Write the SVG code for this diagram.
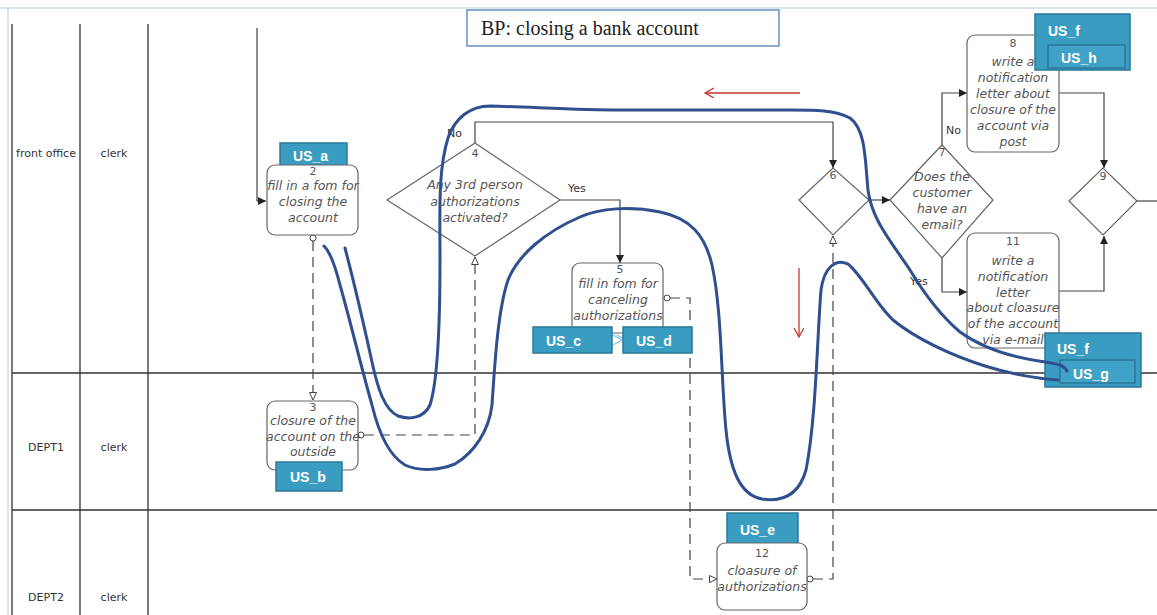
<svg xmlns="http://www.w3.org/2000/svg" width="1157" height="615" viewBox="0 0 1157 615">
<defs>
<style>
.lane{stroke:#333;stroke-width:1.3;fill:none}
.lbl{font-family:"DejaVu Sans",sans-serif;font-size:11px;fill:#333;text-anchor:middle}
.node{fill:#fff;stroke:#666;stroke-width:1.2}
.nt{font-family:"DejaVu Sans",sans-serif;font-style:italic;font-size:12.5px;fill:#555;text-anchor:middle}
.num{font-family:"DejaVu Sans",sans-serif;font-size:11px;fill:#555;text-anchor:middle}
.cn{fill:none;stroke:#444;stroke-width:1.2}
.dash{fill:none;stroke:#444;stroke-width:1.2;stroke-dasharray:10,6}
.circ{fill:#fff;stroke:#444;stroke-width:1}
.us{fill:#3a9cc0;stroke:#2a7898;stroke-width:1.5}
.usin{fill:#3fa2c6;stroke:#2a7898;stroke-width:1.5}
.ust{font-family:"Liberation Sans",sans-serif;font-weight:bold;font-size:14px;fill:#fff}
.blue{fill:none;stroke:#2f4f8f;stroke-width:3;stroke-linecap:round;stroke-linejoin:round}
.red{fill:none;stroke:#c0392b;stroke-width:1.3}
.edge{font-family:"DejaVu Sans",sans-serif;font-size:11px;fill:#333}
</style>
<marker id="af" markerUnits="userSpaceOnUse" markerWidth="9" markerHeight="9" refX="8" refY="4" orient="auto"><path d="M0,0 L8,4 L0,8 z" fill="#222"/></marker>
<marker id="ao" markerUnits="userSpaceOnUse" markerWidth="9" markerHeight="9" refX="8" refY="4" orient="auto"><path d="M0.5,0.5 L8,4 L0.5,7.5 z" fill="#fff" stroke="#444" stroke-width="1"/></marker>
<marker id="ar" markerUnits="userSpaceOnUse" markerWidth="12" markerHeight="12" refX="9" refY="5" orient="auto"><path d="M0,0 L9,5 L0,10" fill="none" stroke="#c0392b" stroke-width="1.3"/></marker>
</defs>
<rect width="1157" height="615" fill="#fff"/>
<line x1="0" y1="8" x2="1157" y2="8" stroke="#b7c9df" stroke-width="1"/>
<line x1="8" y1="8" x2="8" y2="615" stroke="#b7c9df" stroke-width="1"/>

<g id="lanes">
<path class="lane" d="M12,24 V615 M80,24 V615 M148,24 V615 M12,373 H1157 M12,510 H1157"/>
<text class="lbl" x="46" y="157">front office</text>
<text class="lbl" x="114" y="157">clerk</text>
<text class="lbl" x="46" y="451">DEPT1</text>
<text class="lbl" x="114" y="451">clerk</text>
<text class="lbl" x="46" y="601">DEPT2</text>
<text class="lbl" x="114" y="601">clerk</text>
</g>

<g id="title">
<rect x="467" y="10" width="312" height="36" fill="#fff" stroke="#4f7fb8" stroke-width="1.3"/>
<text x="481" y="35" font-family="Liberation Serif, serif" font-size="20" fill="#222">BP: closing a bank account</text>
</g>

<g id="connectors">
<path class="cn" d="M257,28 V201 H266" marker-end="url(#af)"/>
<path class="dash" d="M313,241 V400" marker-end="url(#ao)"/>
<circle class="circ" cx="313" cy="238" r="3"/>
<path class="dash" d="M364,435 H475 V257" marker-end="url(#ao)"/>
<circle class="circ" cx="361" cy="435" r="3"/>
<path class="cn" d="M475,143 V122 H833 V168" marker-end="url(#af)"/>
<path class="cn" d="M560,200 H620 V263" marker-end="url(#af)"/>
<path class="dash" d="M670,298 H690 V579 H717" marker-end="url(#ao)"/>
<circle class="circ" cx="667" cy="298" r="3"/>
<path class="dash" d="M813,579 H833 V236" marker-end="url(#ao)"/>
<circle class="circ" cx="810" cy="579" r="3"/>
<path class="cn" d="M869,200 H890" marker-end="url(#af)"/>
<path class="cn" d="M942,145 V93 H967" marker-end="url(#af)"/>
<path class="cn" d="M942,258 V292 H967" marker-end="url(#af)"/>
<path class="cn" d="M1059,93 H1104 V168" marker-end="url(#af)"/>
<path class="cn" d="M1059,291 H1104 V236" marker-end="url(#af)"/>
<path class="cn" d="M1137,201 H1157"/>
<path d="M613,335 L622,340 L613,345 M617,335 L626,340" fill="none" stroke="#7fc3dc" stroke-width="1.2"/>
<text class="edge" x="447" y="137">No</text>
<text class="edge" x="568" y="192">Yes</text>
<text class="edge" x="946" y="134">No</text>
<text class="edge" x="910" y="285">Yes</text>
</g>

<g id="n2">
<rect class="us" x="280" y="143" width="67" height="26"/>
<text class="ust" x="293" y="161">US_a</text>
<rect class="node" x="267" y="165" width="91" height="70" rx="8"/>
<text class="num" x="313" y="175">2</text>
<text class="nt" x="313" y="190">fill in a fom for</text>
<text class="nt" x="313" y="206">closing the</text>
<text class="nt" x="313" y="222">account</text>
</g>

<g id="n3">
<rect class="node" x="267" y="401" width="91" height="69" rx="8"/>
<text class="num" x="313" y="411">3</text>
<text class="nt" x="313" y="425">closure of the</text>
<text class="nt" x="313" y="441">account on the</text>
<text class="nt" x="313" y="456">outside</text>
<rect class="us" x="276" y="462" width="66" height="29"/>
<text class="ust" x="290" y="482">US_b</text>
</g>

<g id="n4">
<polygon class="node" points="387,200 475,143 560,200 475,256"/>
<text class="num" x="475" y="157">4</text>
<text class="nt" x="475" y="189">Any 3rd person</text>
<text class="nt" x="475" y="206">authorizations</text>
<text class="nt" x="475" y="222">activated?</text>
</g>

<g id="n5">
<rect class="node" x="572" y="263" width="91" height="70" rx="8"/>
<text class="num" x="620" y="273">5</text>
<text class="nt" x="618" y="288">fill in fom for</text>
<text class="nt" x="618" y="304">canceling</text>
<text class="nt" x="618" y="320">authorizations</text>
<rect class="us" x="533" y="327" width="79" height="26"/>
<text class="ust" x="546" y="346">US_c</text>
<rect class="us" x="623" y="327" width="69" height="26"/>
<text class="ust" x="636" y="346">US_d</text>
</g>

<g id="n12">
<rect class="us" x="727" y="513" width="71" height="32"/>
<text class="ust" x="740" y="535">US_e</text>
<rect class="node" x="717" y="543" width="90" height="67" rx="8"/>
<text class="num" x="762" y="557">12</text>
<text class="nt" x="762" y="575">cloasure of</text>
<text class="nt" x="762" y="591">authorizations</text>
</g>

<g id="n6">
<polygon class="node" points="799,200 833,168 869,200 833,235"/>
<text class="num" x="833" y="179">6</text>
</g>

<g id="n7">
<polygon class="node" points="890,200 942,145 993,200 942,258"/>
<text class="num" x="942" y="156">7</text>
<text class="nt" x="942" y="181">Does the</text>
<text class="nt" x="942" y="197">customer</text>
<text class="nt" x="942" y="213">have an</text>
<text class="nt" x="942" y="229">email?</text>
</g>

<g id="n8">
<rect class="node" x="967" y="35" width="92" height="117" rx="8"/>
<text class="num" x="1013" y="47">8</text>
<text class="nt" x="1013" y="66">write a</text>
<text class="nt" x="1013" y="82">notification</text>
<text class="nt" x="1013" y="98">letter about</text>
<text class="nt" x="1013" y="114">closure of the</text>
<text class="nt" x="1013" y="130">account via</text>
<text class="nt" x="1013" y="146">post</text>
<rect class="us" x="1035" y="14" width="95" height="56"/>
<text class="ust" x="1048" y="36">US_f</text>
<rect class="usin" x="1048" y="45" width="77" height="23"/>
<text class="ust" x="1061" y="63">US_h</text>
</g>

<g id="n9">
<polygon class="node" points="1069,201 1103,168 1137,201 1103,235"/>
<text class="num" x="1103" y="180">9</text>
</g>

<g id="n11">
<rect class="node" x="967" y="233" width="92" height="115" rx="8"/>
<text class="num" x="1013" y="245">11</text>
<text class="nt" x="1013" y="265">write a</text>
<text class="nt" x="1013" y="281">notification</text>
<text class="nt" x="1013" y="297">letter</text>
<text class="nt" x="1013" y="312">about  cloasure</text>
<text class="nt" x="1013" y="328">of the account</text>
<text class="nt" x="1013" y="344">via e-mail</text>
<rect class="us" x="1045" y="333" width="96" height="54"/>
<text class="ust" x="1057" y="354">US_f</text>
<rect class="usin" x="1060" y="360" width="75" height="23"/>
<text class="ust" x="1073" y="379">US_g</text>
</g>

<g id="annotations">
<path class="blue" d="M1067,371 C1064,365 1058,364 1045,362 C1015,358 985,350 960,332 C940,315 925,295 910,270 C890,240 872,220 868,190 C865,160 866,130 850,118 C835,110 815,110 790,110 L620,110 C580,110 530,107 490,106 C470,106 455,118 448,138 C438,170 440,210 440,260 C440,320 438,380 430,405 C424,418 410,420 398,416 C385,410 378,390 372,362 C365,330 356,290 345,248"/>
<path class="blue" d="M1058,380 C1040,379 1010,374 985,366 C950,355 915,338 893,320 C875,303 862,275 848,264 C835,258 824,268 821,290 C817,340 816,420 806,470 C799,495 782,502 762,499 C740,495 730,470 726,430 C721,380 722,310 712,265 C705,235 690,218 660,212 C630,206 600,208 580,217 C545,232 518,255 508,280 C498,310 495,360 492,405 C489,430 475,452 455,464 C440,470 420,472 405,465 C388,455 378,430 372,405 C362,370 350,320 340,285 C335,265 330,252 324,246"/>
<path class="red" d="M800,93 H705" marker-end="url(#ar)"/>
<path class="red" d="M799,268 V337" marker-end="url(#ar)"/>
</g>
</svg>
